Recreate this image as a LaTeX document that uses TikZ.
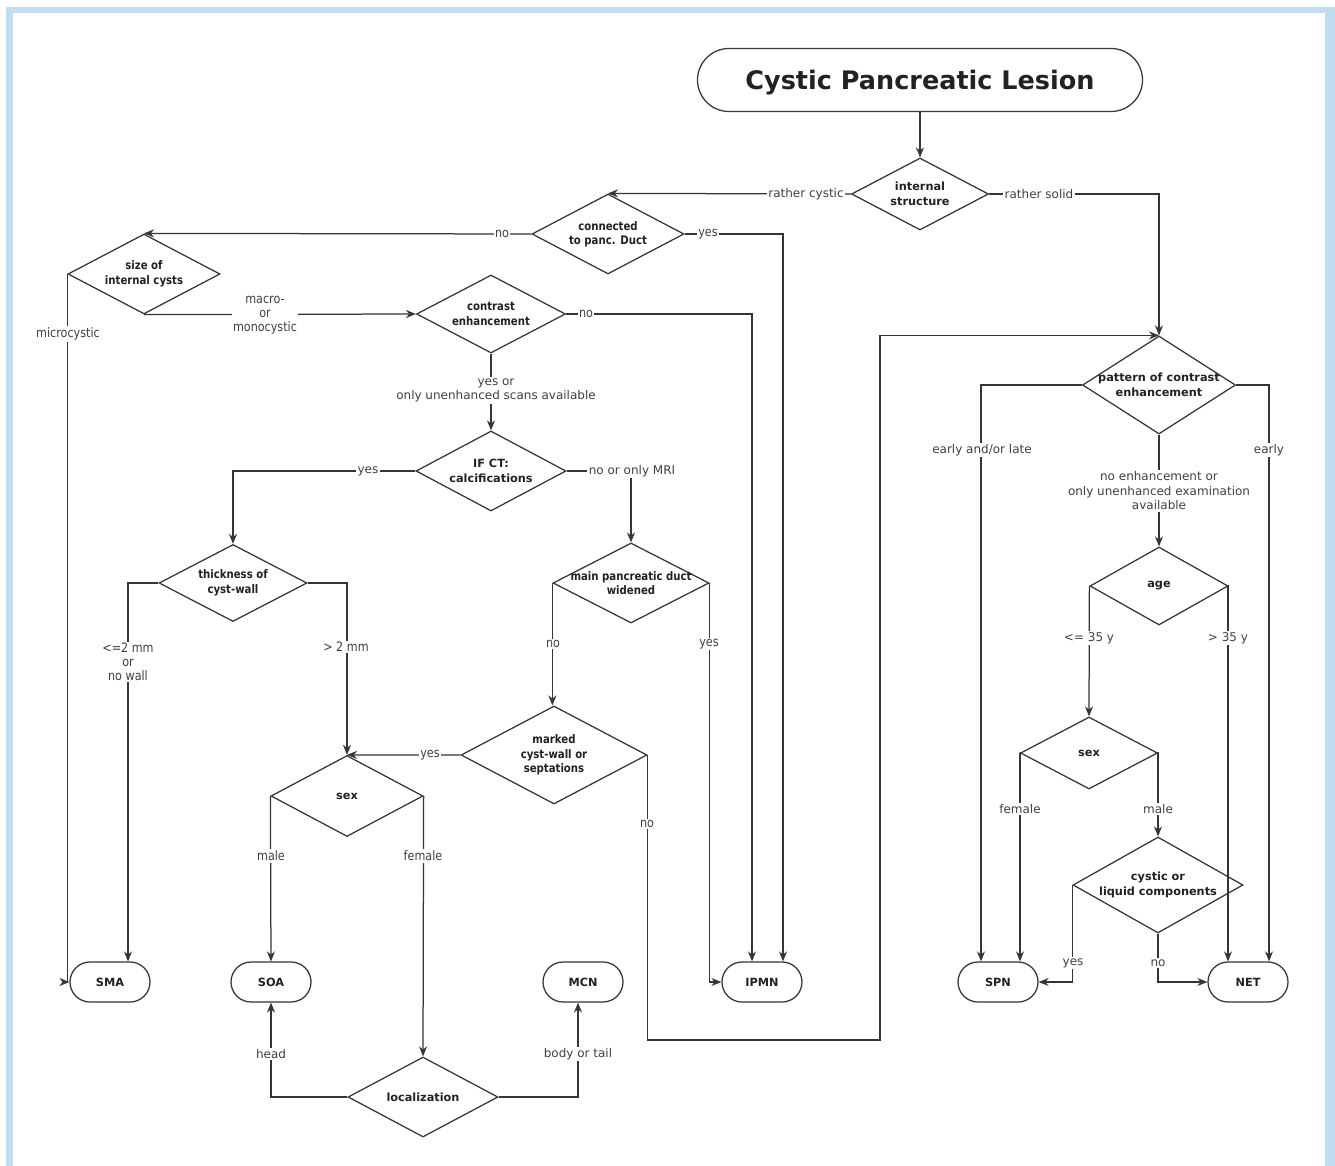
\documentclass[tikz,border=0pt]{standalone}
\usepackage{fontspec}
\setmainfont{DejaVu Sans}
\newfontfamily\dvc[FakeStretch=0.86]{DejaVu Sans}
\usetikzlibrary{shapes.geometric,arrows.meta}
\definecolor{frameblue}{HTML}{BFDDEE}
\definecolor{lncol}{HTML}{353535}
\definecolor{txcol}{HTML}{404040}
\definecolor{bdcol}{HTML}{222222}
\begin{document}
\begin{tikzpicture}[x=1pt,y=-1pt,
  dia/.style 2 args={diamond,draw=lncol,line width=1.25pt,inner sep=0pt,minimum width=#1,minimum height=#2},
  dtxt/.style={align=center,text=bdcol,font=\bfseries\fontsize{11.3}{14.5}\selectfont,inner sep=0pt},
  dtxc/.style={align=center,text=bdcol,font=\dvc\bfseries\fontsize{11.8}{14.5}\selectfont,inner sep=0pt},
  term/.style={draw=lncol,line width=1.25pt,rounded corners=20pt,minimum width=80pt,minimum height=40pt,inner sep=0pt,text=bdcol,font=\bfseries\fontsize{11.3}{13}\selectfont},
  conn/.style={draw=lncol,line width=1.25pt},
  arr/.style={conn,-{Stealth[length=10pt,width=8pt]}},
  lbl/.style={fill=white,inner sep=1.5pt,text=txcol,align=center,font=\fontsize{12}{14.5}\selectfont},
  lblc/.style={fill=white,inner sep=1.5pt,text=txcol,align=center,font=\dvc\fontsize{13}{14}\selectfont}
]
\useasboundingbox (0,0) rectangle (1335,1166);
\fill[white] (0,0) rectangle (1335,1166);
% frame
\fill[frameblue] (6,7) rectangle (13,1166);
\fill[frameblue] (6,7) rectangle (1335,13);
\fill[frameblue] (1325,7) rectangle (1335,1166);

% title
\node[draw=lncol,line width=1.25pt,rounded corners=31.5pt,minimum width=445pt,minimum height=63pt,inner sep=0pt,text depth=0pt,text=bdcol,font=\bfseries\fontsize{25.5}{30}\selectfont] (title) at (920,80) {Cystic Pancreatic Lesion};

% diamonds
\node[dia={137pt}{72pt}] (is) at (920,194) {};
\node[dtxt] (is-t) at (is) {internal\\structure};
\node[dia={152pt}{80pt}] (cd) at (608,234) {};
\node[dtxc] (cd-t) at (cd) {connected\\to panc. Duct};
\node[dia={152pt}{80pt}] (sz) at (144,274) {};
\node[dtxc] (sz-t) at (sz) {size of\\internal cysts};
\node[dia={149pt}{78pt}] (ce) at (491,314) {};
\node[dtxc] (ce-t) at (ce) {contrast\\enhancement};
\node[dia={150pt}{80pt}] (ifc) at (491,471) {};
\node[dtxt] (ifc-t) at (ifc) {IF CT:\\calcifications};
\node[dia={148pt}{77pt}] (th) at (233,583) {};
\node[dtxc] (th-t) at (th) {thickness of\\cyst-wall};
\node[dia={156pt}{80pt}] (mp) at (631,583) {};
\node[dtxc] (mp-t) at (mp) {main pancreatic duct\\widened};
\node[dia={186pt}{98pt}] (mk) at (554,755) {};
\node[dtxc] (mk-t) at (mk) {marked\\cyst-wall or\\septations};
\node[dia={152pt}{81pt}] (sx) at (347,796) {};
\node[dtxt] (sx-t) at (sx) {sex};
\node[dia={150pt}{80pt}] (lo) at (423,1097) {};
\node[dtxt] (lo-t) at (lo) {localization};
\node[dia={153pt}{98pt}] (pt) at (1159,385) {};
\node[dtxt] (pt-t) at (pt) {pattern of contrast\\enhancement};
\node[dia={138pt}{78pt}] (ag) at (1159,586) {};
\node[dtxt] (ag-t) at (ag) {age};
\node[dia={137pt}{72pt}] (s2) at (1089,753) {};
\node[dtxt] (s2-t) at (s2) {sex};
\node[dia={170pt}{96pt}] (cy) at (1158,885) {};
\node[dtxt] (cy-t) at (cy) {cystic or\\liquid components};

% terminals
\node[term] (sma) at (110,982) {SMA};
\node[term] (so) at (271,982) {SOA};
\node[term] (mc) at (583,982) {MCN};
\node[term] (ip) at (762,982) {IPMN};
\node[term] (sp) at (998,982) {SPN};
\node[term] (nt) at (1248,982) {NET};

\coordinate (c1) at (880,1040);

% connectors
\draw[arr] (title.south) -- (is.north);
\draw[arr] (is.west) -- (cd.north);
\draw[arr] (is.east) -| (pt.north);
\draw[arr] (cd.west) -- (sz.north);
\draw[arr] (cd.east) -| ([xshift=21pt]ip.north);
\draw[arr] (sz.south) -- (ce.west);
\draw[arr] (sz.west) |- (sma.west);
\draw[arr] (ce.east) -| ([xshift=-10pt]ip.north);
\draw[arr] (ce.south) -- (ifc.north);
\draw[arr] (ifc.west) -| (th.north);
\draw[arr] (ifc.east) -| (mp.north);
\draw[arr] (th.west) -| ([xshift=18pt]sma.north);
\draw[arr] (th.east) -| (sx.north);
\draw[arr] (mp.west) -- (mp.west |- mk.north);
\draw[arr] (mp.east) |- (ip.west);
\draw[arr] (mk.west) -- (sx.north);
\draw[arr] (mk.east) |- (c1) |- (pt.north);
\draw[arr] (sx.west) -- (so.north);
\draw[arr] (sx.east) -- (lo.north);
\draw[arr] (lo.west) -| (so.south);
\draw[arr] (lo.east) -| ([xshift=-5pt]mc.south);
\draw[arr] (pt.south) -- (ag.north);
\draw[arr] (pt.west) -| ([xshift=-17pt]sp.north);
\draw[arr] (pt.east) -| ([xshift=21pt]nt.north);
\draw[arr] (ag.west) -- (s2.north);
\draw[arr] (ag.east) -| ([xshift=-20pt]nt.north);
\draw[arr] (s2.west) -| ([xshift=22pt]sp.north);
\draw[arr] (s2.east) -| (cy.north);
\draw[arr] (cy.west) |- (sp.east);
\draw[arr] (cy.south) |- (nt.west);

% labels
\node[lbl] (l1) at (806,194) {rather cystic};
\node[lbl] (l2) at (1039,194) {rather solid};
\node[lblc] (l3) at (502,234) {no};
\node[lblc] (l4) at (708,234) {yes};
\node[lblc] (l5) at (265,315) {macro-\\or\\monocystic};
\node[lblc] (l6) at (68,334) {microcystic};
\node[lblc] (l7) at (586,314) {no};
\node[lbl] (l8) at (496,390.5) {yes or\\only unenhanced scans available};
\node[lbl] (l9) at (368,471) {yes};
\node[lbl] (l10) at (632,471) {no or only MRI};
\node[lblc] (l11) at (128,662) {<=2 mm\\or\\no wall};
\node[lblc] (l12) at (346,647) {> 2 mm};
\node[lblc] (l13) at (553,644) {no};
\node[lblc] (l14) at (709,644) {yes};
\node[lblc] (l15) at (430,755) {yes};
\node[lblc] (l16) at (647,824) {no};
\node[lblc] (l17) at (271,856) {male};
\node[lblc] (l18) at (423,856) {female};
\node[lbl] (l19) at (271,1054) {head};
\node[lbl] (l20) at (578,1054) {body or tail};
\node[lbl] (l21) at (982,450) {early and/or late};
\node[lbl] (l22) at (1269,450) {early};
\node[lbl] (l23) at (1159,491) {no enhancement or\\only unenhanced examination\\available};
\node[lbl] (l24) at (1089,638) {<= 35 y};
\node[lbl] (l25) at (1228,638) {> 35 y};
\node[lbl] (l26) at (1020,809) {female};
\node[lbl] (l27) at (1158,809) {male};
\node[lbl] (l28) at (1073,963) {yes};
\node[lbl] (l29) at (1158,963) {no};
\end{tikzpicture}
\end{document}
